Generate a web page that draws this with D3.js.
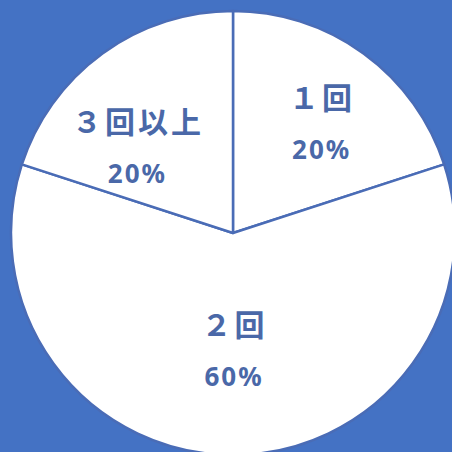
<!DOCTYPE html>
<html>
<head>
<meta charset="utf-8">
<script src="https://cdn.jsdelivr.net/npm/d3@7"></script>
<style>
  html, body { margin: 0; padding: 0; background: #4472c4; }
  svg { display: block; }
</style>
</head>
<body>
<div id="chart"></div>
<script>
// Share of respondents by count
const categories = ["１回", "２回", "３回以上"];
const shares = [20, 60, 20];
const shareLabels = ["20%", "60%", "20%"];

const W = 452, H = 452;
const cx = 233, cy = 233, R = 222;

const svg = d3.select("#chart").append("svg")
  .attr("width", W).attr("height", H);

svg.append("rect").attr("width", W).attr("height", H).attr("fill", "#4472c4");

const rows = categories.map((c, i) => ({ cat: c, value: shares[i], label: shareLabels[i] }));

const pie = d3.pie().value(d => d.value).sort(null);
const arcs = pie(rows);

const arc = d3.arc().innerRadius(0).outerRadius(R);
const labelArc = d3.arc().innerRadius(0).outerRadius(R * 1.22);

const g = svg.append("g").attr("transform", `translate(${cx},${cy})`);

g.selectAll("path.slice").data(arcs).enter().append("path")
  .attr("class", "slice")
  .attr("d", arc)
  .attr("fill", "#ffffff")
  .attr("stroke", "#4a6cb6")
  .attr("stroke-width", 2.5)
  .attr("stroke-linejoin", "round");

// small nudges so the label blocks sit where they read best
const nudge = { "１回": [8, 0], "２回": [0, -18], "３回以上": [-17, 24] };

const lab = g.selectAll("g.lab").data(arcs).enter().append("g")
  .attr("class", "lab")
  .attr("transform", d => {
    const [x, y] = labelArc.centroid(d);
    const [nx, ny] = nudge[d.data.cat];
    return `translate(${x + nx},${y + ny})`;
  });

const catSpacing = 3, pctSpacing = 2;

lab.append("text")
  .attr("text-anchor", "middle")
  .attr("x", catSpacing / 2)
  .attr("y", -14)
  .attr("font-family", "'Noto Sans CJK JP', 'Noto Sans', sans-serif")
  .attr("font-weight", 700)
  .attr("font-size", 30)
  .attr("letter-spacing", catSpacing)
  .attr("fill", "#4a68a8")
  .text(d => d.data.cat);

lab.append("text")
  .attr("text-anchor", "middle")
  .attr("x", pctSpacing / 2)
  .attr("y", 36)
  .attr("font-family", "'Noto Sans', 'Open Sans', sans-serif")
  .attr("font-weight", 700)
  .attr("font-size", 26)
  .attr("letter-spacing", pctSpacing)
  .attr("fill", "#4a68a8")
  .text(d => d.data.label);
</script>
</body>
</html>
